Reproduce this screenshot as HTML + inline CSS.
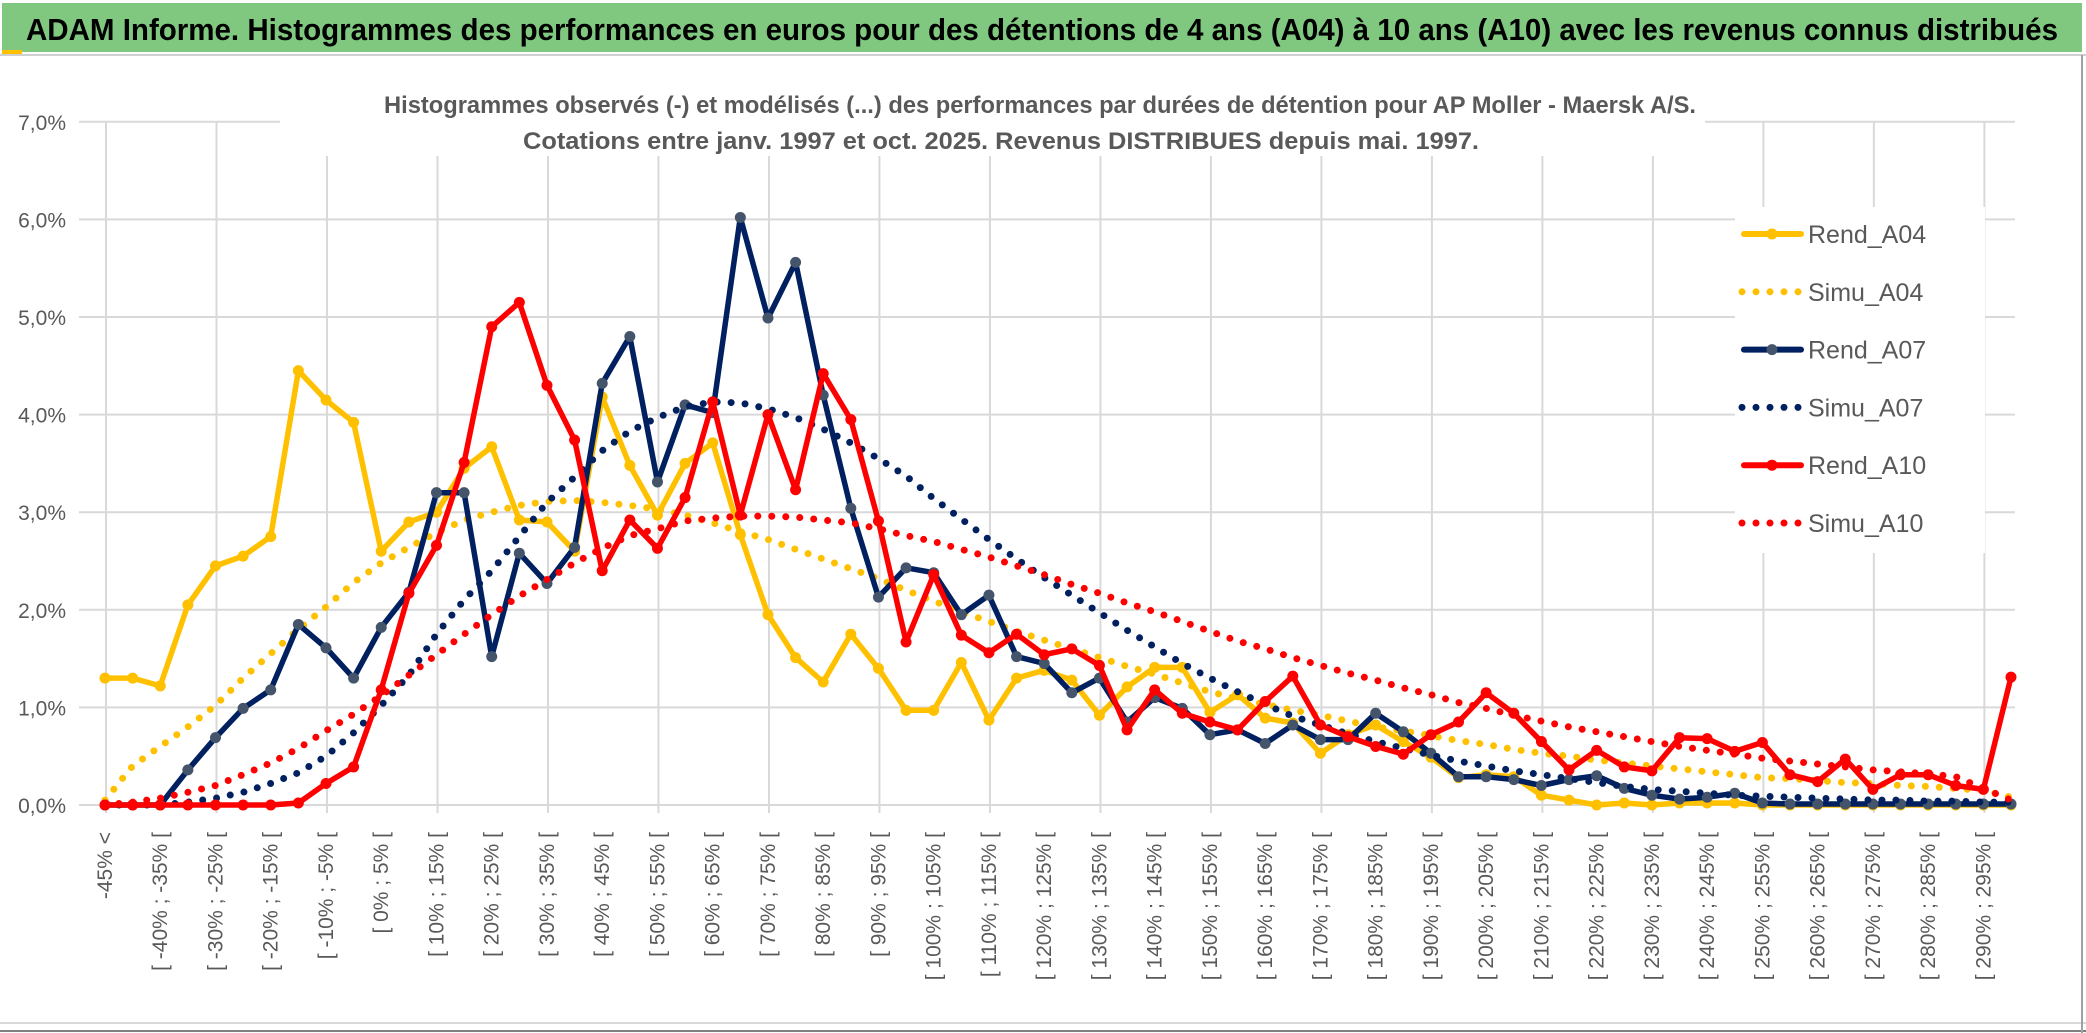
<!DOCTYPE html>
<html><head><meta charset="utf-8"><style>
html,body{margin:0;padding:0;background:#fff;}
svg{display:block;font-family:"Liberation Sans",sans-serif;}
</style></head><body>
<svg id="chart" width="2086" height="1033" viewBox="0 0 2086 1033" xmlns="http://www.w3.org/2000/svg">
<rect x="0" y="0" width="2086" height="1033" fill="#fff"/>
<rect x="2" y="3" width="2080" height="49" fill="#80c880"/>
<rect x="2" y="50" width="20" height="4" fill="#ffc000"/>
<line x1="0" y1="55" x2="2086" y2="55" stroke="#d0d0d0" stroke-width="2"/>
<text x="26" y="40" font-size="31" font-weight="bold" fill="#000" textLength="2032" lengthAdjust="spacingAndGlyphs">ADAM Informe. Histogrammes des performances en euros pour des détentions de 4 ans (A04) à 10 ans (A10) avec les revenus connus distribués</text>
<g id="grid"></g>
<rect x="280" y="84" width="1425" height="72" fill="#fff"/>
<text x="1040" y="113" font-size="24" font-weight="bold" fill="#595959" text-anchor="middle" textLength="1312" lengthAdjust="spacingAndGlyphs">Histogrammes observés (-) et modélisés (...) des performances par durées de détention pour AP Moller - Maersk A/S.</text>
<text x="1001" y="149" font-size="24" font-weight="bold" fill="#595959" text-anchor="middle" textLength="956" lengthAdjust="spacingAndGlyphs">Cotations entre janv. 1997 et oct. 2025. Revenus DISTRIBUES depuis mai. 1997.</text>
<g id="yaxis"></g>
<g id="xaxis"></g>
<g id="series"></g>
<rect x="1735" y="207" width="250" height="346" fill="#fff"/>
<g id="legend"></g>
<line x1="0" y1="1023" x2="2086" y2="1023" stroke="#d9d9d9" stroke-width="2"/>
<line x1="0" y1="1031" x2="2086" y2="1031" stroke="#808080" stroke-width="2"/>
<line x1="2082" y1="55" x2="2082" y2="1033" stroke="#a0a0a0" stroke-width="2"/>
</svg>
<script>
const rendA04 = [1.3,1.3,1.22,2.05,2.45,2.55,2.75,4.45,4.15,3.92,2.6,2.9,3.0,3.45,3.67,2.92,2.9,2.6,4.18,3.48,2.97,3.5,3.71,2.77,1.95,1.51,1.26,1.75,1.4,0.97,0.97,1.46,0.87,1.3,1.38,1.28,0.92,1.21,1.41,1.41,0.95,1.13,0.89,0.84,0.53,0.72,0.82,0.65,0.49,0.28,0.31,0.29,0.1,0.05,0.0,0.02,0.0,0.02,0.02,0.02,0,0,0,0,0,0,0,0,0,0];
const simuA04 = [0.05,0.4,0.6,0.8,1.02,1.3,1.55,1.8,2.03,2.28,2.48,2.64,2.79,2.92,3.0,3.07,3.11,3.12,3.1,3.07,3.03,2.97,2.89,2.8,2.72,2.62,2.52,2.42,2.32,2.2,2.09,1.98,1.88,1.78,1.69,1.6,1.51,1.42,1.34,1.25,1.16,1.09,1.03,0.97,0.92,0.86,0.8,0.76,0.71,0.66,0.62,0.57,0.53,0.5,0.46,0.43,0.4,0.37,0.34,0.31,0.28,0.27,0.25,0.23,0.22,0.2,0.19,0.17,0.15,0.08];
const rendA07 = [0,0,0,0.36,0.69,0.99,1.18,1.85,1.61,1.3,1.82,2.18,3.2,3.2,1.52,2.58,2.27,2.64,4.32,4.8,3.31,4.1,4.02,6.02,4.99,5.56,4.2,3.04,2.13,2.43,2.38,1.95,2.15,1.52,1.45,1.15,1.3,0.85,1.1,0.99,0.72,0.77,0.63,0.82,0.67,0.67,0.94,0.75,0.53,0.29,0.29,0.26,0.2,0.26,0.3,0.17,0.1,0.06,0.08,0.12,0.02,0.01,0.01,0.01,0.01,0.01,0.01,0.01,0.01,0.01];
const simuA07 = [0,0,0,0.03,0.07,0.13,0.22,0.33,0.5,0.74,1.02,1.33,1.75,2.1,2.4,2.75,3.1,3.36,3.63,3.83,3.97,4.08,4.13,4.12,4.06,3.97,3.85,3.71,3.55,3.37,3.14,2.93,2.72,2.52,2.33,2.15,1.97,1.79,1.62,1.45,1.3,1.16,1.03,0.91,0.82,0.73,0.65,0.58,0.51,0.45,0.4,0.35,0.31,0.27,0.23,0.19,0.16,0.14,0.12,0.1,0.09,0.08,0.07,0.06,0.05,0.05,0.04,0.04,0.03,0.03];
const rendA10 = [0,0,0,0,0,0,0,0.02,0.22,0.39,1.18,2.17,2.66,3.51,4.9,5.15,4.3,3.74,2.4,2.92,2.63,3.15,4.13,2.97,4.0,3.23,4.42,3.95,2.91,1.67,2.36,1.74,1.56,1.75,1.54,1.6,1.43,0.77,1.18,0.94,0.85,0.77,1.06,1.32,0.82,0.7,0.6,0.52,0.72,0.85,1.15,0.94,0.65,0.36,0.56,0.39,0.35,0.69,0.68,0.55,0.64,0.31,0.24,0.47,0.16,0.31,0.31,0.2,0.16,1.31];
const simuA10 = [0,0.03,0.07,0.13,0.2,0.31,0.43,0.58,0.76,0.93,1.12,1.33,1.54,1.75,1.95,2.14,2.31,2.48,2.63,2.76,2.83,2.91,2.94,2.96,2.96,2.95,2.92,2.89,2.83,2.76,2.7,2.62,2.54,2.45,2.36,2.26,2.17,2.07,1.98,1.88,1.78,1.68,1.6,1.51,1.43,1.35,1.28,1.2,1.13,1.05,0.99,0.92,0.86,0.8,0.75,0.7,0.65,0.6,0.56,0.52,0.48,0.45,0.42,0.39,0.36,0.34,0.32,0.29,0.17,0.05];
const binStarts = [];
for (let b = -45; b <= 295; b += 5) binStarts.push(b);
const categories = ["-45% <"].concat(binStarts.slice(0,69).map(b => "[ " + b + "% ; " + (b+5) + "% ["));
const yTicks = [0,1,2,3,4,5,6,7];
const yTickLabels = ["0,0%","1,0%","2,0%","3,0%","4,0%","5,0%","6,0%","7,0%"];

const NS = "http://www.w3.org/2000/svg";
const X0 = 105, X1 = 2011, Y0 = 805, PXPER = 97.6;
const n = categories.length;
function xPos(i){ return X0 + i*(X1-X0)/(n-1); }
function yPos(v){ return Y0 - v*PXPER; }
function mk(tag, attrs, parent){ const e=document.createElementNS(NS,tag); for(const k in attrs) e.setAttribute(k,attrs[k]); parent.appendChild(e); return e; }

const grid = document.getElementById('grid');
yTicks.forEach((t,k)=>{
  const l = mk('line',{x1:79,x2:2015,y1:yPos(t),y2:yPos(t),stroke:'#d9d9d9','stroke-width':2},grid);
  
  
});
for (let i=0;i<n;i+=4){
  const l = mk('line',{x1:xPos(i)+1,x2:xPos(i)+1,y1:yPos(7),y2:yPos(0)+8,stroke:'#d9d9d9','stroke-width':2},grid);
  
  
}
const yax = document.getElementById('yaxis');
yTicks.forEach((t,k)=>{
  const tx = mk('text',{x:66,y:yPos(t)+8,'font-size':21,fill:'#595959','text-anchor':'end'},yax);
  tx.textContent = yTickLabels[k];
  
  
});
const xax = document.getElementById('xaxis');
for (let i=0;i<n;i+=2){
  const x = xPos(i)+7, y = 832;
  const tx = mk('text',{x:x,y:y,'font-size':21,fill:'#595959','text-anchor':'end',transform:'rotate(-90 '+x+' '+y+')'},xax);
  tx.textContent = categories[i];
  
  
}
const sg = document.getElementById('series');
function pts(arr){ return arr.map((v,i)=>xPos(i).toFixed(1)+','+yPos(v).toFixed(1)).join(' '); }
function dotted(arr,color,name){
  const p = mk('polyline',{points:pts(arr),fill:'none',stroke:color,'stroke-width':7,'stroke-linecap':'round','stroke-dasharray':'0 14'},sg);
  
  
}
function solid(arr,color,mcolor,name){
  const g = mk('g',{},sg);
  
  
  mk('polyline',{points:pts(arr),fill:'none',stroke:color,'stroke-width':5.5,'stroke-linejoin':'round'},g);
  arr.forEach((v,i)=>{
    const c = mk('circle',{cx:xPos(i),cy:yPos(v),r:5.5,fill:mcolor},g);
    
    
  });
}
solid(rendA04,'#ffc000','#ffc000','rend-a04-line');
dotted(simuA04,'#ffc000','simu-a04-line');
solid(rendA07,'#002060','#44546a','rend-a07-line');
dotted(simuA07,'#002060','simu-a07-line');
solid(rendA10,'#ff0000','#ff0000','rend-a10-line');
dotted(simuA10,'#ff0000','simu-a10-line');

const lg = document.getElementById('legend');
const legendItems = [
  ['Rend_A04','#ffc000','#ffc000',false],
  ['Simu_A04','#ffc000',null,true],
  ['Rend_A07','#002060','#44546a',false],
  ['Simu_A07','#002060',null,true],
  ['Rend_A10','#ff0000','#ff0000',false],
  ['Simu_A10','#ff0000',null,true]
];
legendItems.forEach((it,k)=>{
  const y = 234 + k*57.8;
  const g = mk('g',{},lg);
  
  
  if (it[3]) {
    mk('line',{x1:1742,x2:1802,y1:y,y2:y,stroke:it[1],'stroke-width':7,'stroke-linecap':'round','stroke-dasharray':'0 14'},g);
  } else {
    mk('line',{x1:1744,x2:1801,y1:y,y2:y,stroke:it[1],'stroke-width':6,'stroke-linecap':'round'},g);
    mk('circle',{cx:1772,cy:y,r:5.5,fill:it[2]},g);
  }
  const t = mk('text',{x:1808,y:y+9,'font-size':25,fill:'#595959'},g);
  t.textContent = it[0];
});
</script>
</body></html>
